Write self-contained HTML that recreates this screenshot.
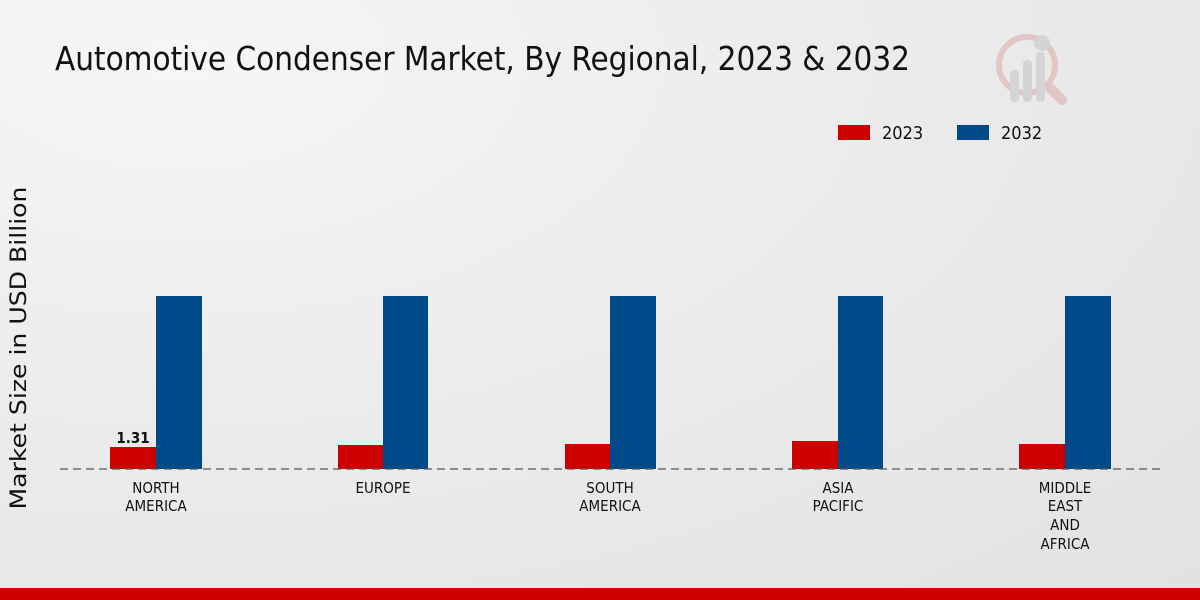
<!DOCTYPE html>
<html><head><style>
body{margin:0;width:1200px;height:600px;overflow:hidden;font-family:"DejaVu Sans Condensed","Liberation Sans Narrow","Liberation Sans",sans-serif;}
.bg{position:absolute;left:0;top:0;width:1200px;height:600px;background:radial-gradient(ellipse at 15% 10%,#f6f6f6 0%,#ececec 45%,#e2e2e2 100%);}
</style></head><body>
<div class="bg"></div>
<svg width="1200" height="600" style="position:absolute;left:0;top:0" font-family="DejaVu Sans Condensed, Liberation Sans Narrow, Liberation Sans, sans-serif">
<text x="55" y="70" font-size="33" fill="#111" textLength="855" lengthAdjust="spacingAndGlyphs">Automotive Condenser Market, By Regional, 2023 &amp; 2032</text>
<g opacity="0.25">
<circle cx="1027" cy="65" r="28" fill="none" stroke="#d06060" stroke-width="6"/>
<line x1="1048" y1="86" x2="1062" y2="100" stroke="#d06060" stroke-width="10" stroke-linecap="round"/>
<rect x="1010" y="70" width="9" height="32" rx="4" fill="#999"/>
<rect x="1023" y="60" width="9" height="42" rx="4" fill="#999"/>
<rect x="1036" y="52" width="9" height="50" rx="4" fill="#999"/>
<circle cx="1042" cy="43" r="8" fill="#999"/>
</g>
<rect x="838" y="125" width="32" height="15" fill="#cc0000"/>
<text x="882" y="139" font-size="18" fill="#111">2023</text>
<rect x="957" y="125" width="32" height="15" fill="#004a8a"/>
<text x="1001" y="139" font-size="18" fill="#111">2032</text>
<text transform="translate(26,348) rotate(-90)" font-family="DejaVu Sans, Liberation Sans, sans-serif" font-size="22" fill="#111" text-anchor="middle" textLength="323" lengthAdjust="spacingAndGlyphs">Market Size in USD Billion</text>
<g fill="#cc0000">
<rect x="110" y="447" width="46" height="22"/>
<rect x="338" y="445" width="45" height="24"/>
<rect x="565" y="444" width="45" height="25"/>
<rect x="792" y="441" width="46" height="28"/>
<rect x="1019" y="444" width="46" height="25"/>
</g>
<g fill="#004a8a">
<rect x="156" y="296" width="46" height="173"/>
<rect x="383" y="296" width="45" height="173"/>
<rect x="610" y="296" width="46" height="173"/>
<rect x="838" y="296" width="45" height="173"/>
<rect x="1065" y="296" width="46" height="173"/>
</g>
<line x1="60" y1="469" x2="1160" y2="469" stroke="#555" stroke-width="1.3" stroke-dasharray="8,5"/>
<text x="133" y="443" font-size="15" font-weight="bold" fill="#111" text-anchor="middle">1.31</text>
<g font-size="15" fill="#111" text-anchor="middle">
<text x="156" y="493">NORTH</text><text x="156" y="511">AMERICA</text>
<text x="383" y="493">EUROPE</text>
<text x="610" y="493">SOUTH</text><text x="610" y="511">AMERICA</text>
<text x="838" y="493">ASIA</text><text x="838" y="511">PACIFIC</text>
<text x="1065" y="493">MIDDLE</text><text x="1065" y="511">EAST</text><text x="1065" y="530">AND</text><text x="1065" y="549">AFRICA</text>
</g>
<rect x="0" y="588" width="1200" height="12" fill="#cc0000"/>
</svg>
</body></html>
